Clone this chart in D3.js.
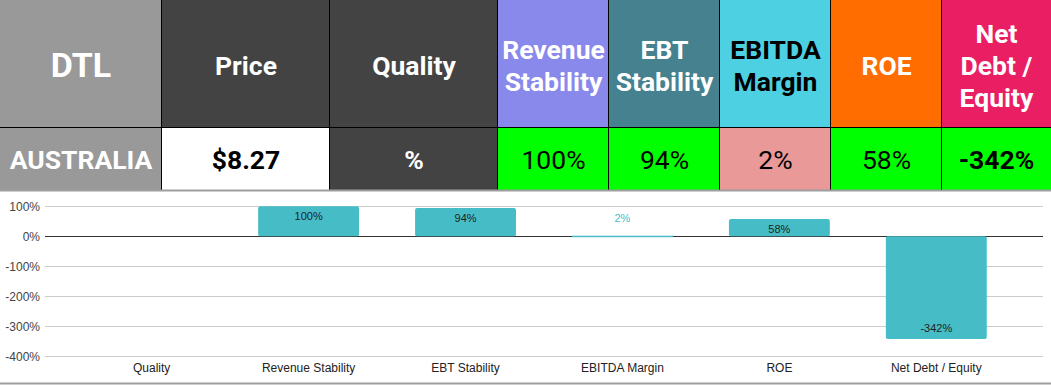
<!DOCTYPE html>
<html>
<head>
<meta charset="utf-8">
<script src="https://cdn.jsdelivr.net/npm/d3@7"></script>
<style>
  html, body { margin: 0; padding: 0; background: #fff; }
  svg { display: block; }
</style>
</head>
<body>
<script>
// Datos de la tabla
const cabeceras = [["DTL"], ["Price"], ["Quality"], ["Revenue", "Stability"], ["EBT", "Stability"], ["EBITDA", "Margin"], ["ROE"], ["Net", "Debt /", "Equity"]]
const filaValores = ["AUSTRALIA", "$8.27", "%", "100%", "94%", "2%", "58%", "-342%"]
const filaNegrita = [true, true, true, false, false, false, false, true]

// Datos del grafico
const categorias = ["Quality", "Revenue Stability", "EBT Stability", "EBITDA Margin", "ROE", "Net Debt / Equity"]
const valores = [null, 100, 94, 2, 58, -342]
const ticksY = [100, 0, -100, -200, -300, -400]

// Estilos
const fondoCab = ["#999999", "#434343", "#434343", "#8989eb", "#45818e", "#4dd0e1", "#ff6d01", "#e91e63"]
const textoCab = ["#fff", "#fff", "#fff", "#fff", "#fff", "#000", "#fff", "#fff"]
const fondoFila = ["#999999", "#ffffff", "#434343", "#00ff00", "#00ff00", "#ea9999", "#00ff00", "#00ff00"]
const textoFila = ["#fff", "#000", "#fff", "#000", "#000", "#000", "#000", "#000"]
const bordes = [0, 162, 330, 498, 609, 720, 831, 942, 1051]

let svg = d3.select("body").append("svg")
    .attr("width", 1051)
    .attr("height", 385)

// ---- Tabla ----
let tabla = svg.append("g").attr("font-family", "Roboto, sans-serif")

let celdas = tabla.selectAll("g.col")
    .data(cabeceras)
    .join("g")
    .attr("class", "col")

celdas.append("rect")
    .attr("x", (d, i) => bordes[i])
    .attr("y", 0)
    .attr("width", (d, i) => bordes[i + 1] - bordes[i])
    .attr("height", 128)
    .attr("fill", (d, i) => fondoCab[i])

celdas.append("rect")
    .attr("x", (d, i) => bordes[i])
    .attr("y", 128)
    .attr("width", (d, i) => bordes[i + 1] - bordes[i])
    .attr("height", 62)
    .attr("fill", (d, i) => fondoFila[i])

celdas.each(function (lineas, i) {
    let cx = (bordes[i] + bordes[i + 1]) / 2
    let lh = 32
    let y0 = 65 - (lineas.length - 1) * lh / 2
    d3.select(this).selectAll("text.cab")
        .data(lineas)
        .join("text")
        .attr("class", "cab")
        .attr("x", cx)
        .attr("y", (t, k) => y0 + k * lh)
        .attr("dy", "0.36em")
        .attr("text-anchor", "middle")
        .attr("font-weight", "bold")
        .attr("font-size", i == 0 ? 34 : 26.5)
        .attr("fill", textoCab[i])
        .text(t => t)
})

celdas.append("text")
    .attr("x", (d, i) => (bordes[i] + bordes[i + 1]) / 2)
    .attr("y", 159)
    .attr("dy", "0.36em")
    .attr("text-anchor", "middle")
    .attr("font-size", 26.5)
    .attr("font-weight", (d, i) => filaNegrita[i] ? "bold" : "normal")
    .attr("fill", (d, i) => textoFila[i])
    .text((d, i) => filaValores[i])

// lineas de la tabla
tabla.selectAll("line.v")
    .data(bordes.slice(1, -1))
    .join("line")
    .attr("class", "v")
    .attr("x1", d => d - 0.5).attr("x2", d => d - 0.5)
    .attr("y1", 0).attr("y2", 190)
    .attr("stroke", "#000")
tabla.append("line")
    .attr("x1", 0).attr("x2", 1051)
    .attr("y1", 127.5).attr("y2", 127.5)
    .attr("stroke", "#000")
tabla.append("line")
    .attr("x1", 0).attr("x2", 1051)
    .attr("y1", 190.5).attr("y2", 190.5)
    .attr("stroke", "#9e9e9e")
    .attr("stroke-width", 2)

// ---- Grafico ----
let escalaX = d3.scaleBand()
    .domain(categorias)
    .range([73, 1015])
    .paddingInner(0.357)
    .paddingOuter(0.18)

let escalaY = d3.scaleLinear()
    .domain([-400, 100])
    .range([356.3, 206.3])

let grafico = svg.append("g").attr("font-family", "Arial, 'Liberation Sans', sans-serif")

// rejilla
grafico.append("g")
    .selectAll("line")
    .data(ticksY.filter(d => d != 0))
    .join("line")
    .attr("x1", 45).attr("x2", 1043)
    .attr("y1", d => Math.round(escalaY(d)) + 0.5)
    .attr("y2", d => Math.round(escalaY(d)) + 0.5)
    .attr("stroke", "#cccccc")

// eje Y
let ejeY = d3.axisLeft(escalaY)
    .tickValues(ticksY)
    .tickFormat(d => d + "%")
    .tickSize(0)
    .tickPadding(0)
grafico.append("g")
    .attr("transform", "translate(40,0)")
    .call(ejeY)
    .call(g => g.select(".domain").remove())
    .selectAll("text")
    .attr("font-size", 12)
    .attr("fill", "#444")
    .attr("font-family", "Arial, 'Liberation Sans', sans-serif")

// linea cero
grafico.append("line")
    .attr("x1", 45).attr("x2", 1043)
    .attr("y1", Math.round(escalaY(0)) + 0.5)
    .attr("y2", Math.round(escalaY(0)) + 0.5)
    .attr("stroke", "#333")

// barras
let datos = categorias.map((c, i) => ({ c: c, v: valores[i] })).filter(d => d.v != null)
let alto = d => Math.abs(escalaY(d.v) - escalaY(0))

grafico.append("g")
    .selectAll("rect")
    .data(datos)
    .join("rect")
    .attr("x", d => escalaX(d.c))
    .attr("width", escalaX.bandwidth())
    .attr("y", d => d.v >= 0 ? Math.min(escalaY(d.v), escalaY(0) - 0.5) : escalaY(0))
    .attr("height", d => Math.max(1.5, alto(d)))
    .attr("rx", d => alto(d) > 4 ? 2 : 0)
    .attr("fill", "#46bdc6")

// etiquetas de valores
grafico.append("g")
    .selectAll("text")
    .data(datos)
    .join("text")
    .attr("x", d => escalaX(d.c) + escalaX.bandwidth() / 2)
    .attr("y", d => {
        if (alto(d) < 12) return escalaY(0) - 18
        return d.v >= 0 ? escalaY(d.v) + 10 : escalaY(d.v) - 11
    })
    .attr("dy", "0.35em")
    .attr("text-anchor", "middle")
    .attr("font-size", 11)
    .attr("fill", d => alto(d) < 12 ? "#46bdc6" : "#222")
    .text(d => d.v + "%")

// eje X
let ejeX = d3.axisBottom(escalaX).tickSize(0).tickPadding(0)
grafico.append("g")
    .attr("transform", "translate(0,363)")
    .call(ejeX)
    .call(g => g.select(".domain").remove())
    .selectAll("text")
    .attr("font-size", 12)
    .attr("fill", "#222")
    .attr("font-family", "Arial, 'Liberation Sans', sans-serif")

// borde inferior
svg.append("line")
    .attr("x1", 0).attr("x2", 1051)
    .attr("y1", 383.5).attr("y2", 383.5)
    .attr("stroke", "#9e9e9e")
    .attr("stroke-width", 2)
</script>
</body>
</html>
